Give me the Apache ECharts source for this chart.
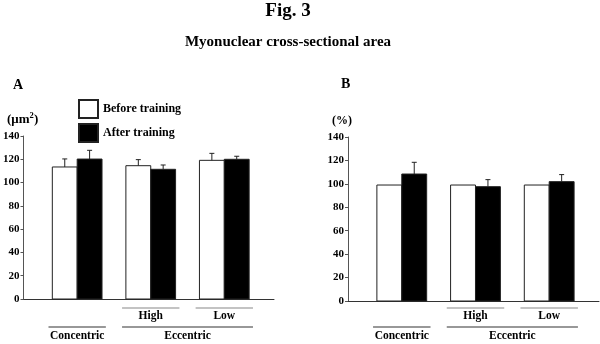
<!DOCTYPE html>
<html><head><meta charset="utf-8">
<script src="https://cdn.jsdelivr.net/npm/echarts@6/dist/echarts.min.js"></script>
<style>html,body{margin:0;padding:0;background:#fff}#c{width:600px;height:344px}</style>
</head><body><div id="c"></div>
<script>
// ---- data ----
const groups = ['Concentric', 'High', 'Low'];
const groupPos = [1, 2, 3];
const yTicks = [0, 20, 40, 60, 80, 100, 120, 140];
const beforeA = [113.4, 114.5, 119.1];
const beforeAErr = [6.9, 5.2, 6.0];
const afterA = [120.2, 111.4, 120.0];
const afterAErr = [7.5, 3.7, 2.6];
const beforeB = [99, 99, 99];
const beforeBErr = [0, 0, 0];
const afterB = [108.4, 97.6, 101.9];
const afterBErr = [10.0, 6.0, 6.0];
const seriesNames = ['Before training', 'After training'];

const FONT = '"Liberation Serif", "Times New Roman", serif';
const chart = echarts.init(document.getElementById('c'), null, {renderer: 'canvas'});

const BW = 25 / 74; // bar width in x units
function mk(vals, errs) { return vals.map((v, i) => [groupPos[i], v, errs[i]]); }
function renderer(off) {
  return function (params, api) {
    const x = api.value(0), v = api.value(1), e = api.value(2);
    const tl = api.coord([x + off - BW / 2, v]);
    const br = api.coord([x + off + BW / 2, 0]);
    const cx = (tl[0] + br[0]) / 2;
    const style = api.style();
    const children = [{
      type: 'rect',
      shape: {x: tl[0], y: tl[1], width: br[0] - tl[0], height: br[1] - tl[1]},
      style: {fill: style.fill, stroke: '#222', lineWidth: 1}
    }];
    if (e > 0) {
      const t = api.coord([x + off, v + e]);
      children.push({type: 'line', shape: {x1: cx, y1: tl[1], x2: cx, y2: t[1]}, style: {stroke: '#222', lineWidth: 1}});
      children.push({type: 'line', shape: {x1: cx - 2.5, y1: t[1], x2: cx + 2.5, y2: t[1]}, style: {stroke: '#222', lineWidth: 1}});
    }
    return {type: 'group', children};
  };
}
const XMIN = 1 - 54 / 74, XMAX = 3 + 50 / 74;
function xAxis(gi) {
  return {type: 'value', gridIndex: gi, min: XMIN, max: XMAX,
    axisLine: {show: true, lineStyle: {color: '#333', width: 1}},
    axisTick: {show: false}, axisLabel: {show: false}, splitLine: {show: false}};
}
function yAxis(gi) {
  return {type: 'value', gridIndex: gi, min: yTicks[0], max: yTicks[yTicks.length - 1], interval: 20,
    axisLine: {show: true, lineStyle: {color: '#555', width: 1}},
    axisTick: {show: true, inside: false, length: 3, lineStyle: {color: '#555'}},
    axisLabel: {margin: 4, color: '#000', fontFamily: FONT, fontWeight: 'bold', fontSize: 11},
    splitLine: {show: false}};
}
function ser(name, data, off, color, gi) {
  return {type: 'custom', name, xAxisIndex: gi, yAxisIndex: gi, data,
    itemStyle: {color, borderColor: '#222', borderWidth: 1},
    renderItem: renderer(off), clip: false};
}
const OFF = 12.5 / 74;
const option = {
  animation: false,
  backgroundColor: '#fff',
  legend: {
    data: seriesNames, orient: 'vertical', left: 78, top: 99, padding: 0,
    icon: 'rect', itemWidth: 19, itemHeight: 18, itemGap: 4,
    textStyle: {fontFamily: FONT, fontWeight: 'bold', fontSize: 12, color: '#000'},
    selectedMode: false
  },
  grid: [
    {left: 22, top: 136, width: 252, height: 163},
    {left: 348, top: 137, width: 251, height: 164}
  ],
  xAxis: [xAxis(0), xAxis(1)],
  yAxis: [yAxis(0), yAxis(1)],
  series: [
    ser(seriesNames[0], mk(beforeA, beforeAErr), -OFF, '#fff', 0),
    ser(seriesNames[1], mk(afterA, afterAErr), OFF, '#000', 0),
    ser(seriesNames[0], mk(beforeB, beforeBErr), -OFF, '#fff', 1),
    ser(seriesNames[1], mk(afterB, afterBErr), OFF, '#000', 1)
  ]
};
chart.setOption(option);

// texts and group annotations
function px(gi, x) { return chart.convertToPixel({xAxisIndex: gi}, x); }
const HALF = 0.39;
const graphics = [];
const txt = (x, y, t, size, align) => ({type: 'text', x, y, style: {text: t, fontFamily: FONT, fontWeight: 'bold', fontSize: size, fill: '#000', align: align || 'center', verticalAlign: 'middle'}});
const ln = (x1, x2, y, c) => ({type: 'line', shape: {x1, y1: y, x2, y2: y}, style: {stroke: c, lineWidth: 1.2}});
graphics.push(txt(288, 11.5, 'Fig. 3', 19));
graphics.push(txt(288, 42, 'Myonuclear cross-sectional area', 15));
graphics.push(txt(13, 85, 'A', 14, 'left'));
graphics.push(txt(341, 84, 'B', 14, 'left'));
graphics.push(txt(7, 120, '(\u03bcm', 13, 'left'));
graphics.push(txt(29.5, 115.5, '2', 8.5, 'left'));
graphics.push(txt(34, 120, ')', 13, 'left'));
graphics.push(txt(332, 121, '(%)', 12, 'left'));
[0, 1].forEach(gi => {
  [1, 2].forEach(i => {
    graphics.push(ln(px(gi, groupPos[i] - HALF), px(gi, groupPos[i] + HALF), 308, '#888'));
    graphics.push(txt(px(gi, groupPos[i]), 316.5, groups[i], 11.5));
  });
  graphics.push(ln(px(gi, groupPos[0] - HALF), px(gi, groupPos[0] + HALF), 327, '#333'));
  graphics.push(txt(px(gi, groupPos[0]), 336, 'Concentric', 11.5));
  graphics.push(ln(px(gi, groupPos[1] - HALF), px(gi, groupPos[2] + HALF), 327, '#333'));
  graphics.push(txt((px(gi, groupPos[1] - HALF) + px(gi, groupPos[2] + HALF)) / 2, 336, 'Eccentric', 11.5));
});
chart.setOption({graphic: graphics});
</script>
</body></html>
